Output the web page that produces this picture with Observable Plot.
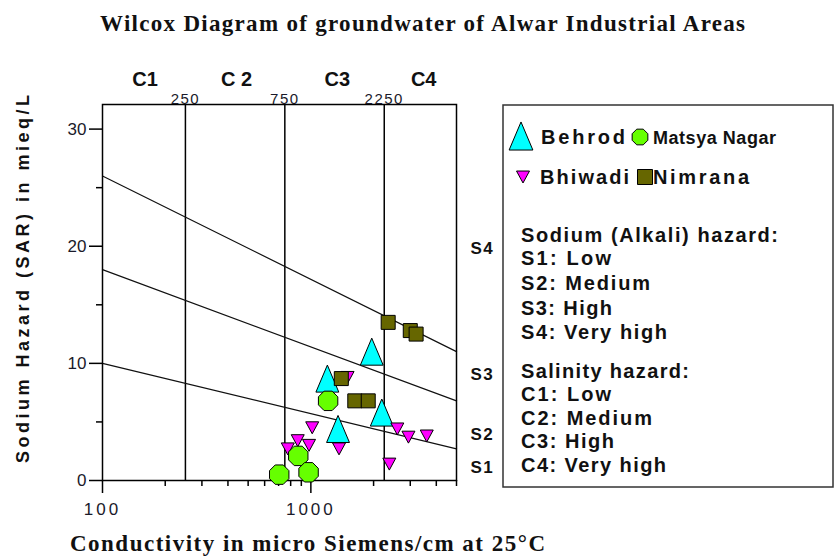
<!DOCTYPE html>
<html>
<head>
<meta charset="utf-8">
<script src="https://cdn.jsdelivr.net/npm/d3@7"></script>
<script src="https://cdn.jsdelivr.net/npm/@observablehq/plot@0.6"></script>
<style>
  body { margin: 0; background: white; }
  #wrap { position: relative; width: 839px; height: 560px; overflow: hidden; }
  #wrap > svg { position: absolute; left: 0; top: 0; }
  .spaced text { letter-spacing: 3px; }
  .spaced2 text { letter-spacing: 1.5px; }
</style>
</head>
<body>
<div id="wrap"></div>
<script>
// ---------- data ----------
const behrodX = [1960, 1200, 2190, 1350];
const behrodY = [11.0, 8.7, 5.8, 4.4];
const matsyaX = [1210, 705, 870, 975];
const matsyaY = [6.8, 0.5, 2.1, 0.7];
const bhiwadiX = [775, 865, 980, 1015, 1365, 1500, 2600, 2940, 3600, 2380];
const bhiwadiY = [2.7, 3.4, 3.0, 4.5, 2.7, 8.8, 4.4, 3.7, 3.8, 1.4];
const nimranaX = [2350, 3000, 3200, 1400, 1625, 1885];
const nimranaY = [13.5, 12.8, 12.5, 8.7, 6.8, 6.8];

// salinity class boundaries (µS/cm) and class labels
const cBounds = [250, 750, 2250];
const cBoundLabels = ["250", "750", "2250"];
const cLabels = ["C1", "C 2", "C3", "C4"];
const cLabelX = [160, 440, 1340, 3480];

// sodium hazard boundary lines (SAR at x ends)
const sLineX = [100, 5000];
const sLine12 = [10, 2.7];
const sLine23 = [18, 6.8];
const sLine34 = [26, 11];
const sLabels = ["S4", "S3", "S2", "S1"];
const sLabelY = [19.8, 9.05, 3.9, 1.1];

// axis ticks
const yMajor = [0, 10, 20, 30];
const yMinor = [5, 15, 25];
const xMajor = [100, 1000];
const xMinor = [200, 300, 400, 500, 600, 700, 800, 900, 2000, 3000, 4000, 5000];

const titleText = "Wilcox Diagram of groundwater of Alwar Industrial Areas";
const xLabelText = "Conductivity in micro Siemens/cm at 25°C";
const yLabelText = "Sodium Hazard (SAR) in mieq/L";
const seriesNames = ["Behrod", "Matsya Nagar", "Bhiwadi", "Nimrana"];
const sodiumTitle = "Sodium (Alkali) hazard:";
const sodiumItems = ["S1: Low", "S2: Medium", "S3: High", "S4: Very high"];
const salinityTitle = "Salinity hazard:";
const salinityItems = ["C1: Low", "C2: Medium", "C3: High", "C4: Very high"];

// ---------- build tables ----------
const pts = (xs, ys) => xs.map((x, i) => ({x, y: ys[i]}));
const behrod = pts(behrodX, behrodY);
const matsya = pts(matsyaX, matsyaY);
const bhiwadi = pts(bhiwadiX, bhiwadiY);
const nimrana = pts(nimranaX, nimranaY);
const sLines = [sLine12, sLine23, sLine34].flatMap((ys, k) => sLineX.map((x, i) => ({x, y: ys[i], k})));

// ---------- symbols ----------
const triUp = {draw(ctx, size) { const s = Math.sqrt(size / Math.PI); const w = s * 0.88, h = s * 1.04;
  ctx.moveTo(0, -h); ctx.lineTo(w, h); ctx.lineTo(-w, h); ctx.closePath(); }};
const triDown = {draw(ctx, size) { const s = Math.sqrt(size / Math.PI); const w = s, h = s * 0.92;
  ctx.moveTo(-w, -h); ctx.lineTo(w, -h); ctx.lineTo(0, h); ctx.closePath(); }};
const octagon = {draw(ctx, size) { const s = Math.sqrt(size / Math.PI);
  for (let k = 0; k < 8; k++) { const a = Math.PI / 8 + k * Math.PI / 4; const px = s * Math.cos(a), py = s * Math.sin(a);
    if (k === 0) ctx.moveTo(px, py); else ctx.lineTo(px, py); } ctx.closePath(); }};
const square = {draw(ctx, size) { const s = Math.sqrt(size / Math.PI);
  ctx.moveTo(-s, -s); ctx.lineTo(s, -s); ctx.lineTo(s, s); ctx.lineTo(-s, s); ctx.closePath(); }};

const colors = {Behrod: "#00ffff", Matsya: "#66ff00", Bhiwadi: "#ff00ff", Nimrana: "#666600"};

// ---------- plot ----------
const chart = Plot.plot({
  width: 839, height: 560,
  marginLeft: 102, marginRight: 383, marginTop: 104, marginBottom: 80,
  style: {fontFamily: "'Liberation Sans', Arial, sans-serif", color: "#1a1a2a", background: "white", overflow: "visible"},
  x: {type: "log", domain: [100, 5000]},
  y: {domain: [0, 32.1]},
  marks: [
    Plot.ruleX(cBounds, {stroke: "black", strokeWidth: 1.5}),
    Plot.line(sLines, {x: "x", y: "y", z: "k", stroke: "#111", strokeWidth: 1.2}),
    Plot.frame({stroke: "black", strokeWidth: 1.5}),
    Plot.axisY(yMajor, {tickSize: 13, tickPadding: 3, fontSize: 17, label: null, stroke: "black", strokeWidth: 1.5}),
    Plot.axisY(yMinor, {tickSize: 6, text: null, label: null, stroke: "black", strokeWidth: 1.5}),
    Plot.axisX(xMajor, {tickSize: 13, tickPadding: 9, fontSize: 17, label: null, tickFormat: d3.format("d"), stroke: "black", strokeWidth: 1.5, className: "spaced"}),
    Plot.axisX(xMinor, {tickSize: 6, text: null, label: null, stroke: "black", strokeWidth: 1.5}),
    Plot.text(cBoundLabels, {x: (d, i) => cBounds[i], text: d => d, frameAnchor: "top", lineAnchor: "bottom", dy: -1, fontSize: 15, fill: "#1a1a2a", className: "spaced2"}),
    Plot.text(cLabels, {x: (d, i) => cLabelX[i], text: d => d, frameAnchor: "top", lineAnchor: "middle", dy: -25, fontSize: 20, fontWeight: "bold", fill: "#111"}),
    Plot.text(sLabels, {y: (d, i) => sLabelY[i], text: d => d, frameAnchor: "right", dx: 14, textAnchor: "start", fontSize: 17, fontWeight: "bold", fill: "#111", className: "spaced2"}),
    Plot.dot(behrod, {x: "x", y: "y", symbol: triUp, r: 13, fill: colors.Behrod, stroke: "black", strokeWidth: 1}),
    Plot.dot(bhiwadi, {x: "x", y: "y", symbol: triDown, r: 6.5, fill: colors.Bhiwadi, stroke: "black", strokeWidth: 1}),
    Plot.dot(matsya, {x: "x", y: "y", symbol: octagon, r: 10.5, fill: colors.Matsya, stroke: "black", strokeWidth: 1}),
    Plot.dot(nimrana, {x: "x", y: "y", symbol: square, r: 7, fill: colors.Nimrana, stroke: "black", strokeWidth: 1})
  ]
});
document.getElementById("wrap").appendChild(chart);

// ---------- overlay: title, axis titles, legend ----------
const ov = d3.select("#wrap").append("svg").attr("width", 839).attr("height", 560).style("pointer-events", "none");
const txt = (s, x, y, o) => {
  const t = ov.append("text").attr("x", x).attr("y", y).text(s)
    .attr("font-family", o.family || "'Liberation Sans', Arial, sans-serif")
    .attr("font-weight", "bold").attr("font-size", o.size).attr("fill", o.fill || "#111");
  if (o.len) t.attr("textLength", o.len).attr("lengthAdjust", "spacing");
  if (o.anchor) t.attr("text-anchor", o.anchor);
  if (o.transform) t.attr("transform", o.transform);
  return t;
};
txt(titleText, 100, 31, {family: "'Liberation Serif', 'Times New Roman', serif", size: 23, len: 645});
txt(xLabelText, 70, 551, {family: "'Liberation Serif', 'Times New Roman', serif", size: 23, len: 475});
ov.append("text").attr("transform", "translate(29,279) rotate(-90)").attr("text-anchor", "middle")
  .attr("font-family", "'Liberation Sans', Arial, sans-serif").attr("font-weight", "bold").attr("font-size", 18)
  .attr("fill", "#111").attr("textLength", 368).attr("lengthAdjust", "spacing").text(yLabelText);

// legend box
ov.append("rect").attr("x", 503).attr("y", 105).attr("width", 330).attr("height", 382)
  .attr("fill", "none").attr("stroke", "#333").attr("stroke-width", 1.5);
const sym = (type, r, x, y, fill) => ov.append("path")
  .attr("d", d3.symbol().type(type).size(r * r * Math.PI)())
  .attr("transform", `translate(${x},${y})`).attr("fill", fill).attr("stroke", "black").attr("stroke-width", 1);
sym(triUp, 13.5, 521, 136, colors.Behrod);
sym(octagon, 8.5, 640, 137, colors.Matsya);
sym(triDown, 6.5, 523, 177, colors.Bhiwadi);
sym(square, 7.5, 645, 177, colors.Nimrana);

const lf = 20, lOff = 7;
txt(seriesNames[0], 541, 137 + lOff, {size: lf, len: 84});
txt(seriesNames[1], 653, 137 + lOff, {size: 18, len: 123});
txt(seriesNames[2], 540, 177 + lOff, {size: lf, len: 89});
txt(seriesNames[3], 653, 177 + lOff, {size: lf, len: 96});
txt(sodiumTitle, 521, 235 + lOff, {size: lf, len: 257});
const sodY = [258, 283, 308, 332], sodW = [90, 129, 91, 146];
sodiumItems.forEach((s, i) => txt(s, 521, sodY[i] + lOff, {size: lf, len: sodW[i]}));
txt(salinityTitle, 521, 371 + lOff, {size: lf, len: 168});
const salY = [394, 418, 441, 465], salW = [90, 131, 93, 145];
salinityItems.forEach((s, i) => txt(s, 521, salY[i] + lOff, {size: lf, len: salW[i]}));
</script>
</body>
</html>
